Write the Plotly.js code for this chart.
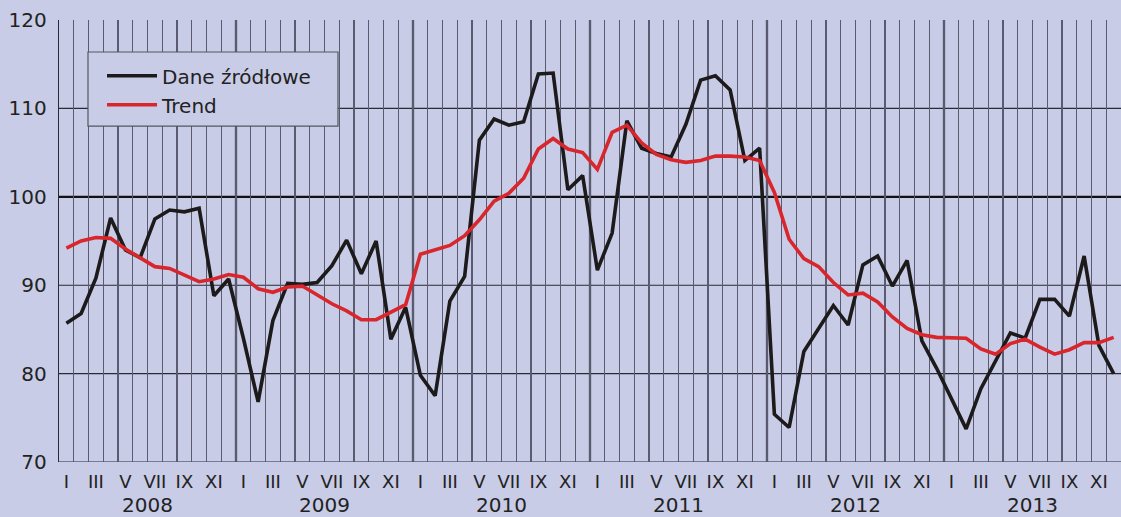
<!DOCTYPE html>
<html><head><meta charset="utf-8">
<script src="https://cdn.plot.ly/plotly-3.0.1.min.js"></script>
<style>html,body{margin:0;padding:0;background:#c8cce6;} #chart{width:1121px;height:517px;}</style>
</head><body><div id="chart"></div>
<script>
const years = ['2008','2009','2010','2011','2012','2013'];
const months = ['I','II','III','IV','V','VI','VII','VIII','IX','X','XI','XII'];
const daneZrodlowe = [
  85.7, 86.8, 90.8, 97.6, 94.0, 93.1, 97.5, 98.5, 98.3, 98.7, 88.8, 90.7,
  84.0, 76.8, 86.0, 90.2, 90.1, 90.3, 92.2, 95.1, 91.3, 95.0, 83.9, 87.5,
  79.8, 77.5, 88.2, 91.0, 106.4, 108.8, 108.1, 108.5, 113.9, 114.0, 100.8, 102.4,
  91.7, 95.9, 108.6, 105.5, 104.9, 104.5, 108.2, 113.2, 113.7, 112.1, 104.1, 105.5,
  75.4, 73.9, 82.5, 85.1, 87.7, 85.5, 92.3, 93.3, 89.9, 92.8, 83.7, 80.6,
  77.2, 73.75, 78.3, 81.5, 84.6, 84.0, 88.4, 88.4, 86.5, 93.3, 83.2, 80.0
];
const trend = [
  94.2, 95.0, 95.4, 95.3, 94.1, 93.1, 92.1, 91.9, 91.1, 90.4, 90.7, 91.2,
  90.9, 89.6, 89.2, 89.8, 89.9, 88.9, 87.9, 87.1, 86.1, 86.1, 86.9, 87.8,
  93.5, 94.0, 94.5, 95.6, 97.4, 99.5, 100.4, 102.1, 105.4, 106.6, 105.4, 105.0,
  103.1, 107.3, 108.1, 106.1, 104.8, 104.2, 103.9, 104.1, 104.6, 104.6, 104.5, 104.1,
  100.5, 95.2, 93.0, 92.1, 90.3, 88.9, 89.1, 88.1, 86.4, 85.1, 84.4, 84.1,
  84.1, 84.0, 82.8, 82.2, 83.4, 83.9, 83.0, 82.2, 82.7, 83.5, 83.5, 84.1
];
const yTicks = [70, 80, 90, 100, 110, 120];
const legendNames = ['Dane źródłowe', 'Trend'];

const BG = '#c8cce6';
const FONT = 'DejaVu Sans, Arial, sans-serif';
const nMonths = years.length * months.length;
const xs = daneZrodlowe.map((_, i) => i + 0.5);

const tickvals = [], ticktext = [];
for (let y = 0; y < years.length; y++) {
  for (let m = 0; m < months.length; m += 2) {
    tickvals.push(y * 12 + m + 0.5);
    ticktext.push(months[m]);
  }
}
const minorVals = [];
for (let i = 0; i <= nMonths; i++) minorVals.push(i);

const shapes = [];
for (let y = 1; y < years.length; y++) {
  shapes.push({type: 'line', xref: 'x', yref: 'paper', x0: y * 12, x1: y * 12, y0: 0, y1: 1,
    line: {color: '#111', width: 2.2}, layer: 'between'});
}
yTicks.forEach(v => {
  if (v < 120) shapes.push({type: 'line', xref: 'paper', yref: 'y', x0: 0, x1: 1, y0: v, y1: v,
    line: {color: v === 100 ? '#111' : '#2a2a35', width: v === 100 ? 2.2 : 1.1}, layer: 'between'});
});
// legend box
shapes.push({type: 'rect', xref: 'paper', yref: 'paper', x0: 0.0273, x1: 0.2627, y0: 0.760, y1: 0.9276,
  fillcolor: BG, line: {color: '#55565f', width: 1.2}, layer: 'above'});

const annotations = years.map((yr, k) => ({
  text: yr, xref: 'x', yref: 'paper', x: k * 12 + 6, y: 0, yanchor: 'middle', yshift: -43,
  showarrow: false, font: {family: FONT, size: 20, color: '#222'}
}));

const traces = [
  {x: xs, y: daneZrodlowe, type: 'scatter', mode: 'lines', name: legendNames[0],
   line: {color: '#1c1a1a', width: 3.6}},
  {x: xs, y: trend, type: 'scatter', mode: 'lines', name: legendNames[1],
   line: {color: '#d8262c', width: 3.6}}
];

const layout = {
  width: 1121, height: 517,
  margin: {l: 59, r: 0, t: 20, b: 55},
  paper_bgcolor: BG, plot_bgcolor: BG,
  showlegend: true,
  legend: {x: 0.0405, y: 0.918, xanchor: 'left', yanchor: 'top', bgcolor: 'rgba(0,0,0,0)',
    borderwidth: 0, itemwidth: 50, font: {family: FONT, size: 20, color: '#222'}, tracegroupgap: 0},
  xaxis: {range: [0, nMonths], tickmode: 'array', tickvals: tickvals, ticktext: ticktext,
    showgrid: false, zeroline: false, showline: false, ticks: '', ticklabelstandoff: 7,
    tickfont: {family: FONT, size: 18, color: '#222'},
    minor: {tickmode: 'array', tickvals: minorVals, showgrid: true, gridcolor: '#5a5b70', gridwidth: 1.3, ticks: ''}},
  yaxis: {range: [70, 120], tickmode: 'array', tickvals: yTicks, showgrid: false, zeroline: false,
    showline: true, linecolor: '#2a2a35', linewidth: 1.3, ticks: '', ticklabelstandoff: 7,
    tickfont: {family: FONT, size: 20, color: '#222'}},
  shapes: shapes,
  annotations: annotations
};

Plotly.newPlot('chart', traces, layout, {displayModeBar: false, staticPlot: true});
</script>
</body></html>
